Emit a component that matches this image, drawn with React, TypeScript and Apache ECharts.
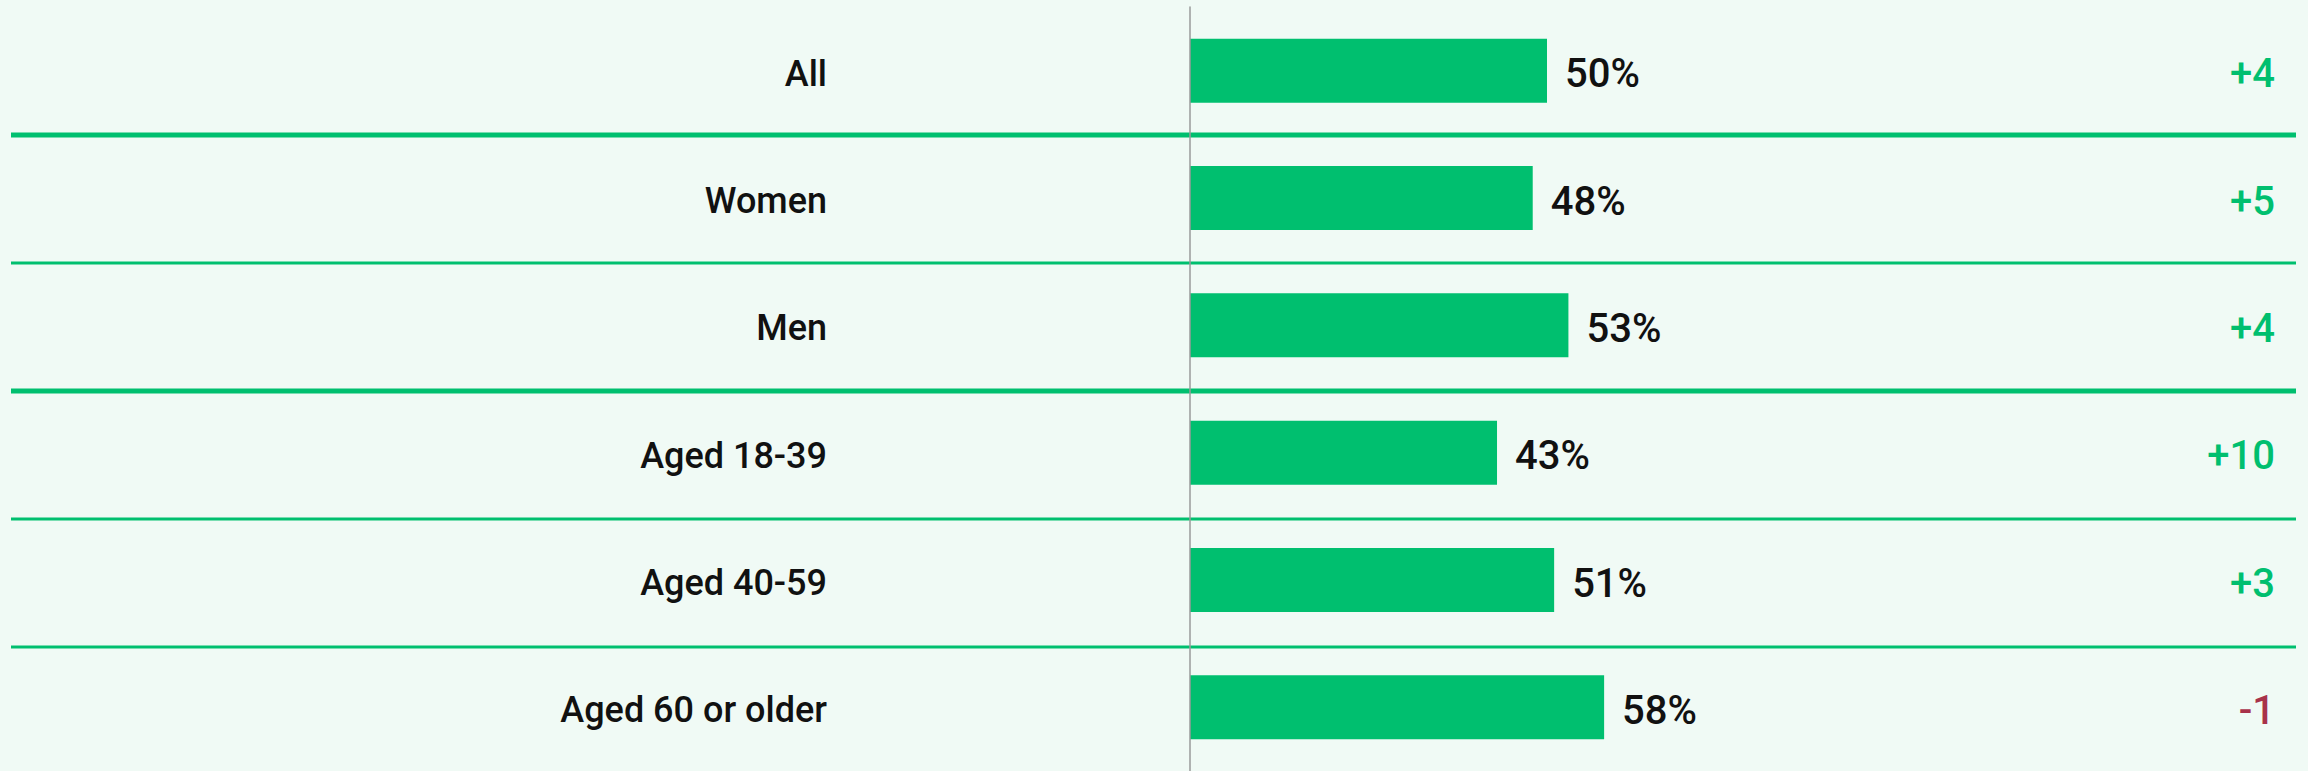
import React, { useEffect, useRef } from "react";
import * as echarts from "echarts";

const categories = ["All", "Women", "Men", "Aged 18-39", "Aged 40-59", "Aged 60 or older"];
const values = [50, 48, 53, 43, 51, 58];
const changes = [4, 5, 4, 10, 3, -1];
// separators after these row indices; true = thick
const separators = [
  { after: 0, thick: true },
  { after: 1, thick: false },
  { after: 2, thick: true },
  { after: 3, thick: false },
  { after: 4, thick: false },
];

const W = 2308;
const H = 771;
const GRID_TOP = 7;
const ROW_H = 128;
const GRID_LEFT = 1190;
const GRID_W = 714;
const GREEN = "#00BF6F";
const RED = "#A8324A";
const BG = "#F0FAF5";

export default function App() {
  const ref = useRef<HTMLDivElement>(null);
  useEffect(() => {
    if (!ref.current) return;
    const chart = echarts.init(ref.current, null, { renderer: "svg" });
    const gridH = ROW_H * categories.length;
    const fmtChange = (v: number) => (v > 0 ? "+" + v : v < 0 ? "-" + Math.abs(v) : "0");
    chart.setOption({
      animation: false,
      backgroundColor: BG,
      grid: { left: GRID_LEFT, top: GRID_TOP, width: GRID_W, height: gridH, containLabel: false },
      xAxis: { type: "value", min: 0, max: 100, show: false },
      yAxis: [
        {
          type: "category",
          data: categories,
          inverse: true,
          z: 10,
          axisLine: { show: true, lineStyle: { color: "#9a9a9a", width: 1.5 } },
          axisTick: { show: false },
          splitLine: { show: false },
          axisLabel: {
            margin: 363,
            align: "right",
            fontFamily: "Roboto",
            fontSize: 36,
            fontWeight: 500,
            color: "#111111",
            formatter: (v: string) => "{c|" + v + "}",
            rich: {
              c: { fontFamily: "Roboto", fontSize: 36, fontWeight: 500, color: "#111111", padding: [6, 0, 0, 0] },
            },
          },
        },
        {
          type: "category",
          data: changes.map((c) => fmtChange(c)),
          inverse: true,
          position: "right",
          axisLine: { show: false },
          axisTick: { show: false },
          splitLine: { show: false },
          axisLabel: {
            margin: 2275 - (GRID_LEFT + GRID_W),
            align: "right",
            fontFamily: "Roboto",
            fontSize: 40,
            fontWeight: 500,
            formatter: (v: string) => (v.startsWith("-") ? "{neg|" + v + "}" : "{pos|" + v + "}"),
            rich: {
              pos: { color: GREEN, fontFamily: "Roboto", fontSize: 40, fontWeight: 500, padding: [6, 0, 0, 0] },
              neg: { color: RED, fontFamily: "Roboto", fontSize: 40, fontWeight: 500, padding: [6, 0, 0, 0] },
            },
          },
        },
      ],
      graphic: separators.map((s) => {
        const y = GRID_TOP + ROW_H * (s.after + 1);
        return {
          type: "line",
          z: 0,
          silent: true,
          shape: { x1: 11, y1: y, x2: 2296, y2: y },
          style: { stroke: GREEN, lineWidth: s.thick ? 5 : 3 },
        };
      }),
      series: [
        {
          type: "bar",
          yAxisIndex: 0,
          data: values,
          barWidth: 64,
          itemStyle: { color: GREEN },
          z: 5,
          label: {
            show: true,
            position: "right",
            distance: 18,
            offset: [0, 3],
            formatter: "{c}%",
            fontFamily: "Roboto",
            fontSize: 40,
            fontWeight: 500,
            color: "#111111",
          },
        },
      ],
    });
    return () => chart.dispose();
  }, []);
  return (
    <div
      ref={ref}
      style={{ position: "fixed", left: 0, top: 0, width: W, height: H }}
    />
  );
}
